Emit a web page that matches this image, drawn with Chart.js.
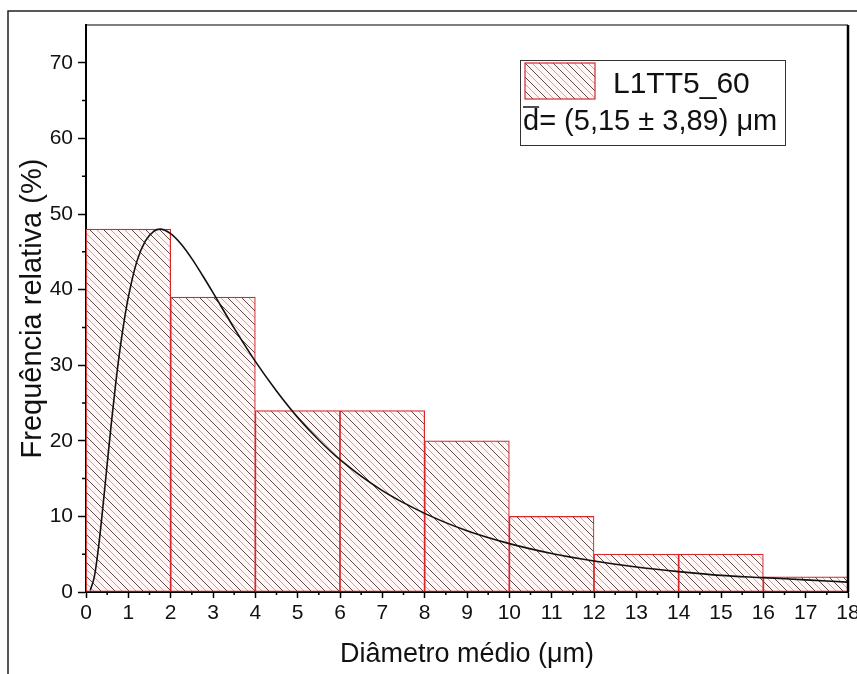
<!DOCTYPE html>
<html>
<head>
<meta charset="utf-8">
<title>Distribuição de diâmetros - L1TT5_60</title>
<script src="https://cdn.jsdelivr.net/npm/chart.js@4.4.1/dist/chart.umd.min.js"></script>
<style>
    body { margin: 0; background: #fff; }
    canvas { display: block; }
</style>
</head>
<body>
<canvas id="hist-chart" width="857" height="674"></canvas>
<script>
// Histogram: 2 um bins, centre of each bin and its relative frequency (%)
const binCenters = [1, 3, 5, 7, 9, 11, 13, 15, 17];
const frequencies = [48, 39, 24, 24, 20, 10, 5, 5, 2];

// Fitted curve, values
const fitX = [0.1, 0.2, 0.3, 0.4, 0.5, 0.6, 0.7, 0.8, 0.9, 1.0, 1.2, 1.4, 1.6, 1.75, 2.0, 2.25, 2.5, 2.75, 3.0, 3.5, 4.0, 4.5, 5.0, 5.5, 6, 7, 8, 9, 10, 11, 12, 13, 14, 15, 16, 17, 18];
const fitY = [0.2, 2.1, 6.1, 11.3, 16.9, 22.4, 27.5, 32.0, 35.8, 39.0, 43.7, 46.4, 47.7, 48.0, 47.4, 46.0, 44.1, 41.9, 39.6, 34.9, 30.5, 26.6, 23.1, 20.1, 17.5, 13.4, 10.4, 8.1, 6.4, 5.1, 4.1, 3.3, 2.7, 2.2, 1.9, 1.6, 1.3];

// Axis ticks
const xTicks = [0, 1, 2, 3, 4, 5, 6, 7, 8, 9, 10, 11, 12, 13, 14, 15, 16, 17, 18];
const xMinorTicks = [0.5, 1.5, 2.5, 3.5, 4.5, 5.5, 6.5, 7.5, 8.5, 9.5, 10.5, 11.5, 12.5, 13.5, 14.5, 15.5, 16.5, 17.5];
const yTicks = [0, 10, 20, 30, 40, 50, 60, 70];
const yMinorTicks = [5, 15, 25, 35, 45, 55, 65];

const seriesName = 'L1TT5_60';
const meanText = '= (5,15 ± 3,89) μm';

const FONT = "'Liberation Sans', Arial, sans-serif";
const RED = '#d8282d';

// hatch pattern like the Origin "\\\" fill
function makeHatch() {
    const s = 14;
    const c = document.createElement('canvas');
    c.width = s;
    c.height = s;
    const g = c.getContext('2d');
    g.fillStyle = '#fff6f6';
    g.fillRect(0, 0, s, s);
    g.lineWidth = 1;
    [[-s, '#5e4646'], [-s / 2, '#e59a9a'], [0, '#5e4646'], [s / 2, '#e59a9a'], [s, '#5e4646']].forEach(([off, col]) => {
        g.strokeStyle = col;
        g.beginPath();
        g.moveTo(off - 1, -1);
        g.lineTo(off + s + 1, s + 1);
        g.stroke();
    });
    return c;
}

const ctx = document.getElementById('hist-chart').getContext('2d');
const hatch = ctx.createPattern(makeHatch(), 'repeat');

const framePlugin = {
    id: 'framePlugin',
    beforeDraw(chart) {
        const c = chart.ctx;
        c.save();
        c.fillStyle = '#fff';
        c.fillRect(0, 0, chart.width, chart.height);
        // outer figure border
        c.strokeStyle = '#222';
        c.lineWidth = 1.5;
        c.beginPath();
        c.moveTo(8, chart.height);
        c.lineTo(8, 11);
        c.lineTo(chart.width, 11);
        c.stroke();
        c.restore();
    },
    afterDraw(chart) {
        const c = chart.ctx;
        const a = chart.chartArea;
        const xs = chart.scales.x;
        const ys = chart.scales.y;
        c.save();
        c.strokeStyle = '#000';
        // top and right border of the plot
        c.lineWidth = 1.2;
        c.beginPath();
        c.moveTo(a.left, a.top);
        c.lineTo(a.right, a.top);
        c.stroke();
        c.lineWidth = 2.5;
        c.beginPath();
        c.moveTo(a.right, a.top);
        c.lineTo(a.right, a.bottom);
        c.stroke();

        // minor ticks
        c.lineWidth = 1.5;
        c.beginPath();
        xMinorTicks.forEach(v => {
            const px = xs.getPixelForValue(v);
            c.moveTo(px, a.bottom);
            c.lineTo(px, a.bottom + 3);
        });
        yMinorTicks.forEach(v => {
            const py = ys.getPixelForValue(v);
            c.moveTo(a.left, py);
            c.lineTo(a.left - 4, py);
        });
        c.stroke();

        // legend box
        const lx = 520, ly = 60, lw = 265, lh = 85;
        c.fillStyle = '#fff';
        c.fillRect(lx, ly, lw, lh);
        c.strokeStyle = '#333';
        c.lineWidth = 1;
        c.strokeRect(lx + 0.5, ly + 0.5, lw, lh);
        c.fillStyle = hatch;
        c.fillRect(lx + 5, ly + 3, 70, 36);
        c.strokeStyle = RED;
        c.lineWidth = 1.2;
        c.strokeRect(lx + 5, ly + 3, 70, 36);

        c.fillStyle = '#111';
        c.textBaseline = 'alphabetic';
        c.textAlign = 'left';
        c.font = '30px ' + FONT;
        c.fillText(seriesName, lx + 93, ly + 33);
        c.font = '29px ' + FONT;
        c.fillText('d', lx + 3, ly + 70);
        const dw = c.measureText('d').width;
        c.fillText(meanText, lx + 3 + dw, ly + 70);
        // bar over the d (mean)
        c.strokeStyle = '#111';
        c.lineWidth = 1.5;
        c.beginPath();
        c.moveTo(lx + 3, ly + 47);
        c.lineTo(lx + 3 + dw, ly + 47);
        c.stroke();
        c.restore();
    }
};

new Chart(ctx, {
    type: 'bar',
    data: {
        datasets: [{
            type: 'line',
            label: 'ajuste',
            data: fitX.map((x, i) => ({ x: x, y: fitY[i] })),
            borderColor: '#111',
            borderWidth: 1.6,
            pointRadius: 0,
            fill: false,
            tension: 0.4,
            cubicInterpolationMode: 'monotone',
            order: 0
        }, {
            type: 'bar',
            label: seriesName,
            data: binCenters.map((x, i) => ({ x: x, y: frequencies[i] })),
            backgroundColor: hatch,
            borderColor: RED,
            borderWidth: 1.2,
            borderSkipped: false,
            barThickness: 'flex',
            barPercentage: 1,
            categoryPercentage: 1,
            order: 1
        }]
    },
    options: {
        responsive: false,
        animation: false,
        layout: { padding: { left: 0, top: 25, right: 9, bottom: 0 } },
        plugins: {
            legend: { display: false },
            tooltip: { enabled: false }
        },
        scales: {
            x: {
                type: 'linear',
                min: 0,
                max: 18,
                offset: false,
                afterBuildTicks: s => { s.ticks = xTicks.map(v => ({ value: v })); },
                afterFit: s => { s.height = 82; s.paddingLeft = 0; s.paddingRight = 0; },
                ticks: {
                    autoSkip: false,
                    maxRotation: 0,
                    padding: 3,
                    color: '#111',
                    font: { family: FONT, size: 21 }
                },
                grid: {
                    offset: false,
                    drawOnChartArea: false,
                    drawTicks: true,
                    tickLength: 6,
                    tickColor: '#000',
                    tickWidth: 1.5
                },
                border: { color: '#000', width: 2 },
                title: {
                    display: true,
                    text: 'Diâmetro médio (μm)',
                    color: '#111',
                    font: { family: FONT, size: 27 },
                    padding: { top: 0, bottom: 3 }
                }
            },
            y: {
                min: 0,
                max: 75,
                afterBuildTicks: s => { s.ticks = yTicks.map(v => ({ value: v })); },
                afterFit: s => { s.width = 86; s.paddingTop = 0; s.paddingBottom = 0; },
                ticks: {
                    padding: 5,
                    color: '#111',
                    font: { family: FONT, size: 21 }
                },
                grid: {
                    drawOnChartArea: false,
                    drawTicks: true,
                    tickLength: 8,
                    tickColor: '#000',
                    tickWidth: 1.5
                },
                border: { color: '#000', width: 2 },
                title: {
                    display: true,
                    text: 'Frequência relativa (%)',
                    color: '#111',
                    font: { family: FONT, size: 29 },
                    padding: { top: 16, bottom: 0 }
                }
            }
        }
    },
    plugins: [framePlugin]
});
</script>
</body>
</html>
